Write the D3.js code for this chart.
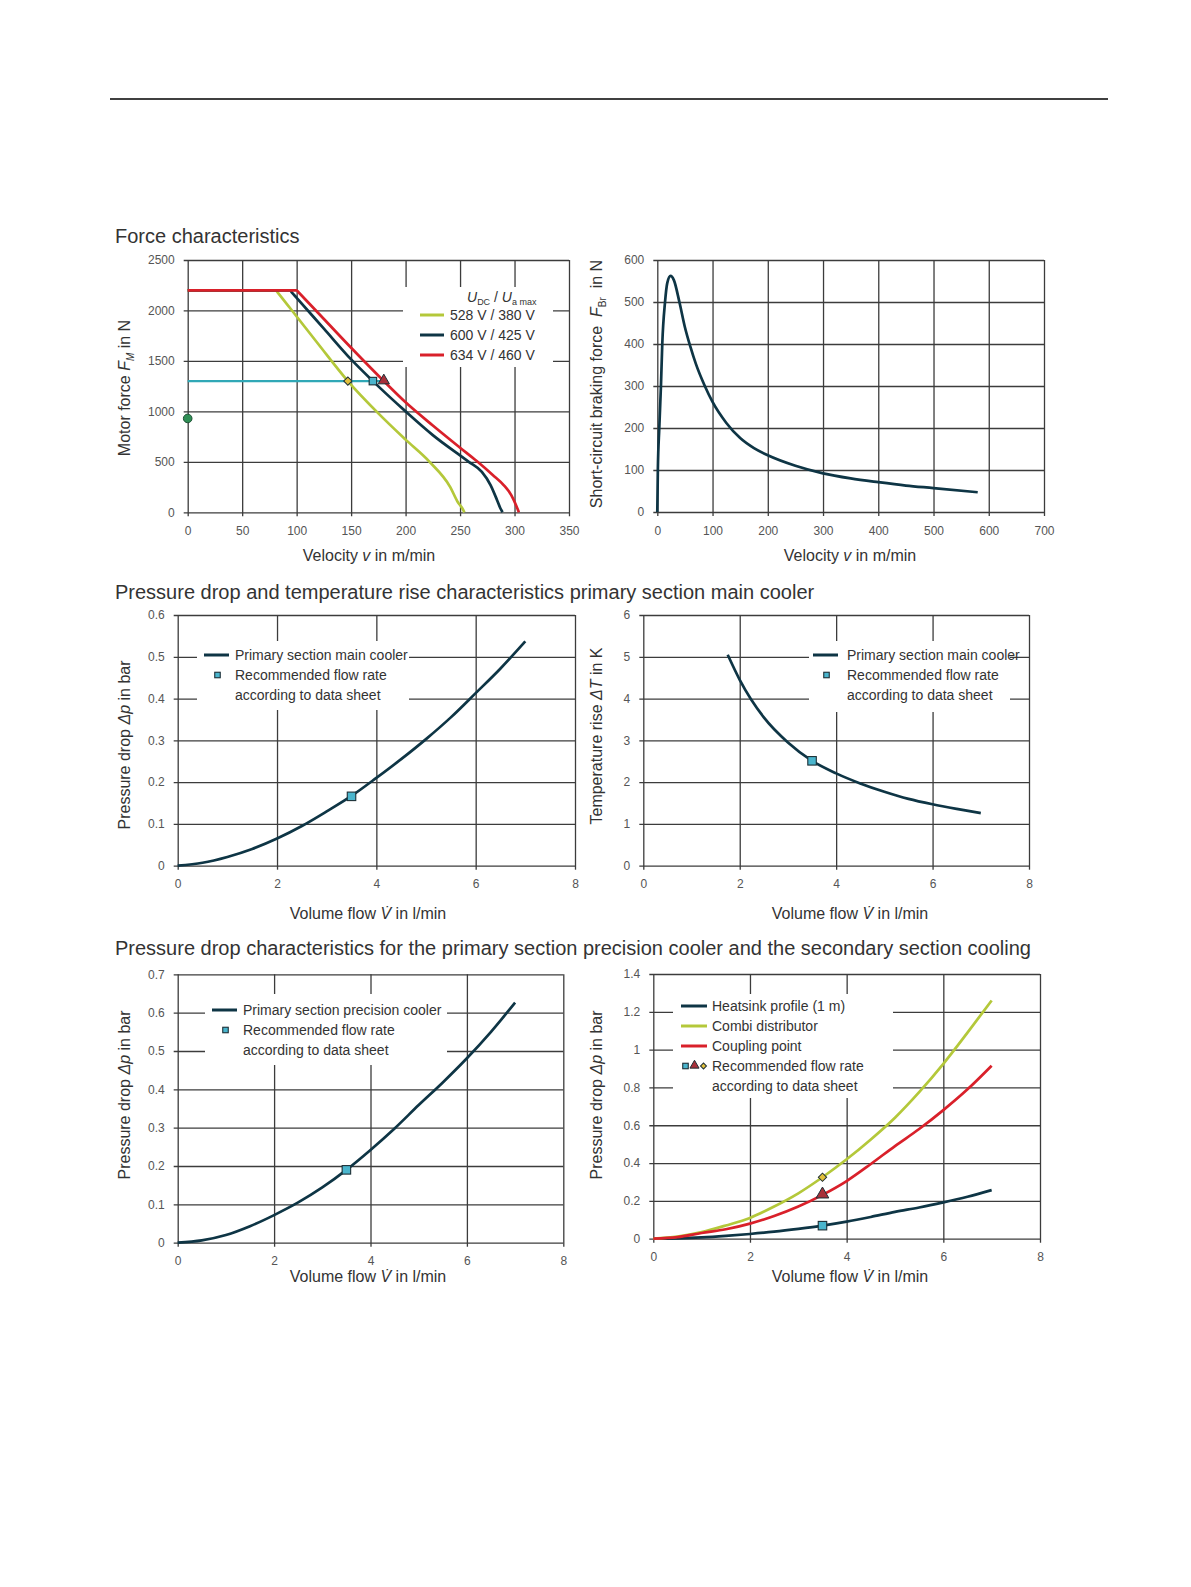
<!DOCTYPE html>
<html>
<head>
<meta charset="utf-8">
<script src="https://cdn.jsdelivr.net/npm/d3@7"></script>
<style>
  html, body { margin: 0; padding: 0; background: #fff; }
  svg { display: block; }
  text { font-family: "Liberation Sans", Arial, sans-serif; }
</style>
</head>
<body>
<svg id="page" width="1191" height="1587"></svg>
<script>
// values

// Force characteristics: motor force over velocity for three supply voltages
var forceLabels = ["528 V / 380 V", "600 V / 425 V", "634 V / 460 V"];
var force528V = [0, 81, 82.5, 100, 120, 147, 175, 200, 222, 241, 248, 252, 254];
var force528F = [2200, 2200, 2180, 1940, 1665, 1300, 980, 720, 500, 250, 100, 40, 0];
var force600V = [0, 94, 95.5, 100, 125, 150, 170, 200, 225, 258, 270, 278, 284, 287, 289];
var force600F = [2200, 2200, 2180, 2125, 1820, 1515, 1300, 1000, 765, 500, 400, 270, 120, 40, 0];
var force634V = [0, 100, 101.5, 125, 150, 180, 200, 225, 250, 265, 280, 290, 297, 301, 304];
var force634F = [2200, 2200, 2183, 1915, 1630, 1300, 1090, 860, 640, 510, 370, 270, 170, 80, 0];
var forceRefF = 1300;            // horizontal reference line
var forceRefEnd = 180;
var forceMarkV = [147, 170, 180]; // diamond, square, triangle
var forceDotF = 930;             // circle on the y axis

// Short-circuit braking force
var brakeV = [0, 1, 3.6, 6.6, 9, 14, 18, 24, 30, 40, 50, 60, 70, 86, 100, 125, 150, 175, 200, 250, 300, 350, 400, 450, 500, 580];
var brakeF = [0, 100, 200, 300, 400, 500, 545, 562, 552, 500, 440, 393, 352, 300, 262, 212, 176, 152, 135, 110, 92, 80, 71, 63, 57, 47];

// Main cooler: pressure drop and temperature rise
var flowQ = [0, 0.5, 1, 1.5, 2, 2.5, 3, 3.5, 4, 4.5, 5, 5.5, 6, 6.5, 7];
var mainDp = [0, 0.007, 0.021, 0.04, 0.065, 0.095, 0.13, 0.167, 0.21, 0.255, 0.303, 0.355, 0.413, 0.472, 0.537];
var tempQ = [1.75, 2, 2.5, 3, 3.5, 4, 4.5, 5, 5.5, 6, 6.5, 7];
var tempDT = [5.05, 4.45, 3.55, 2.95, 2.51, 2.21, 1.97, 1.77, 1.6, 1.47, 1.36, 1.26];
var recQ = 3.5;
var mainRecDp = 0.166;
var tempRecDT = 2.51;

// Precision cooler and secondary section
var precDp = [0, 0.006, 0.02, 0.043, 0.072, 0.105, 0.144, 0.19, 0.242, 0.298, 0.359, 0.418, 0.481, 0.55, 0.626];
var precRecDp = 0.19;
var heatsinkDp = [0, 0.002, 0.007, 0.015, 0.025, 0.037, 0.052, 0.069, 0.09, 0.115, 0.142, 0.165, 0.192, 0.222, 0.257];
var combiDp = [0, 0.011, 0.035, 0.07, 0.11, 0.17, 0.24, 0.325, 0.42, 0.525, 0.64, 0.775, 0.925, 1.09, 1.26];
var couplingDp = [0, 0.008, 0.03, 0.05, 0.08, 0.12, 0.17, 0.232, 0.305, 0.395, 0.49, 0.58, 0.68, 0.79, 0.915];
var secondaryLabels = ["Heatsink profile (1 m)", "Combi distributor", "Coupling point"];

var NAVY = "#0e3545", GREEN = "#b4c83a", RED = "#d9202a", CYAN = "#30a8b6";
var SQ_FILL = "#4ab5cd", DIA_FILL = "#e2c03c", TRI_FILL = "#a8303a", DARK = "#1d2f36";
var GRID = "#3c3c3c", TXT = "#333", TICK = "#555";

var svg = d3.select("#page");

// page rule at the top
svg.append("line").attr("x1", 110).attr("x2", 1108).attr("y1", 99).attr("y2", 99)
  .attr("stroke", "#000").attr("stroke-width", 1.5);

// section headings
var headings = [
  ["Force characteristics", 243],
  ["Pressure drop and temperature rise characteristics primary section main cooler", 599],
  ["Pressure drop characteristics for the primary section precision cooler and the secondary section cooling", 955]
];
headings.forEach(function(h) {
  svg.append("text").attr("x", 115).attr("y", h[1]).attr("font-size", 20).attr("fill", TXT).text(h[0]);
});

function fmt(d) { return String(+d.toFixed(2)); }

// builds one panel: grid, tick labels, scales
function panel(c) {
  var g = svg.append("g");
  var x = d3.scaleLinear().domain(c.xDom).range([c.left, c.right]);
  var y = d3.scaleLinear().domain(c.yDom).range([c.bottom, c.top]);

  var gy = g.append("g").attr("transform", "translate(" + (c.left - 4) + ",0)")
    .call(d3.axisLeft(y).tickValues(c.yTicks).tickSize(-(c.right - c.left + 4)).tickPadding(c.yPad || 9).tickFormat(fmt));
  var gx = g.append("g").attr("transform", "translate(0," + (c.bottom + 4) + ")")
    .call(d3.axisBottom(x).tickValues(c.xTicks).tickSize(-(c.bottom - c.top + 4)).tickPadding(10).tickFormat(fmt));
  [gy, gx].forEach(function(a) {
    a.select(".domain").remove();
    a.selectAll("line").attr("stroke", GRID).attr("stroke-width", 1.3);
    a.selectAll("text").attr("font-size", 12).attr("fill", TICK).style("font-family", "Liberation Sans, Arial, sans-serif");
  });
  return { g: g, x: x, y: y };
}

function curve(p, xs, ys, color, shape) {
  var pts = xs.map(function(v, i) { return [v, ys[i]]; });
  p.g.append("path").datum(pts)
    .attr("fill", "none").attr("stroke", color).attr("stroke-width", 2.7)
    .attr("stroke-linejoin", "round").attr("stroke-linecap", "butt")
    .attr("d", d3.line().x(function(d) { return p.x(d[0]); }).y(function(d) { return p.y(d[1]); })
      .curve(shape || d3.curveMonotoneX));
}

function marker(g, type, cx, cy, size) {
  var s = size || 8;
  if (type === "square") {
    g.append("rect").attr("x", cx - s / 2).attr("y", cy - s / 2).attr("width", s).attr("height", s)
      .attr("fill", SQ_FILL).attr("stroke", DARK).attr("stroke-width", 1.1);
  } else if (type === "diamond") {
    g.append("path").attr("d", d3.symbol(d3.symbolSquare, s * s * 0.7)())
      .attr("transform", "translate(" + cx + "," + cy + ") rotate(45)")
      .attr("fill", DIA_FILL).attr("stroke", DARK).attr("stroke-width", 1);
  } else if (type === "triangle") {
    g.append("path").attr("d", d3.symbol(d3.symbolTriangle, s * s * 0.85)())
      .attr("transform", "translate(" + cx + "," + (cy - 0.5) + ")")
      .attr("fill", TRI_FILL).attr("stroke", DARK).attr("stroke-width", 1);
  }
}

function legendBox(g, x0, y0, x1, y1) {
  g.append("rect").attr("x", x0).attr("y", y0).attr("width", x1 - x0).attr("height", y1 - y0).attr("fill", "#fff");
}

function legendText(g, x, yc, str) {
  g.append("text").attr("x", x).attr("y", yc + 5).attr("font-size", 14).attr("fill", TXT).text(str);
}

function legendLine(g, x0, x1, yc, color) {
  g.append("line").attr("x1", x0).attr("x2", x1).attr("y1", yc).attr("y2", yc)
    .attr("stroke", color).attr("stroke-width", 3);
}

// axis titles; parts = [text, italic, sub]
function title(cx, cy, parts, rotate) {
  var t = svg.append("text").attr("font-size", 16).attr("fill", TXT).attr("text-anchor", "middle")
    .attr("xml:space", "preserve")
    .attr("transform", "translate(" + cx + "," + cy + ")" + (rotate ? " rotate(-90)" : ""));
  var shift = 0;
  parts.forEach(function(p) {
    var ts = t.append("tspan").text(p[0]);
    if (p[1]) ts.attr("font-style", "italic");
    var want = p[2] ? 4 : 0;
    if (want !== shift) { ts.attr("dy", want - shift); shift = want; }
    if (p[2]) ts.attr("font-size", 10);
  });
  t.attr("y", 5);
}

var velocityTitle = [["Velocity "], ["v", true], [" in m/min"]];
var flowTitle = [["Volume flow "], ["V\u0307", true], [" in l/min"]];
var dpTitle = [["Pressure drop "], ["\u0394p", true], [" in bar"]];

// ---- panel 1: motor force
var p1 = panel({ left: 187.7, right: 569, top: 260, bottom: 512.3, xDom: [0, 350], yDom: [0, 2500],
  xTicks: d3.range(0, 351, 50), yTicks: d3.range(0, 2501, 500) });
legendBox(p1.g, 403, 287, 553, 367);
p1.g.append("line").attr("x1", p1.x(0)).attr("x2", p1.x(forceRefEnd)).attr("y1", p1.y(forceRefF)).attr("y2", p1.y(forceRefF))
  .attr("stroke", CYAN).attr("stroke-width", 2.2);
curve(p1, force528V, force528F, GREEN);
curve(p1, force600V, force600F, NAVY);
curve(p1, force634V, force634F, RED);
marker(p1.g, "diamond", p1.x(forceMarkV[0]), p1.y(forceRefF), 7);
marker(p1.g, "square", p1.x(forceMarkV[1]), p1.y(forceRefF), 7.5);
marker(p1.g, "triangle", p1.x(forceMarkV[2]), p1.y(forceRefF), 8);
p1.g.append("circle").attr("cx", p1.x(0)).attr("cy", p1.y(forceDotF)).attr("r", 4.3)
  .attr("fill", "#2f8f55").attr("stroke", "#1c4f33").attr("stroke-width", 1);
var hdr = p1.g.append("text").attr("x", 467).attr("y", 302).attr("font-size", 14).attr("fill", TXT);
hdr.append("tspan").attr("font-style", "italic").text("U");
hdr.append("tspan").attr("font-size", 9).attr("dy", 3).text("DC");
hdr.append("tspan").attr("dy", -3).text(" / ");
hdr.append("tspan").attr("font-style", "italic").text("U");
hdr.append("tspan").attr("font-size", 9).attr("dy", 3).text("a max");
[GREEN, NAVY, RED].forEach(function(col, i) {
  legendLine(p1.g, 420, 444, 315 + i * 20, col);
  legendText(p1.g, 450, 315 + i * 20, forceLabels[i]);
});
title(369, 556, velocityTitle, false);
title(125, 388, [["Motor force "], ["F", true], ["M", true, true], [" in N"]], true);

// ---- panel 2: braking force
var p2 = panel({ left: 657.3, right: 1044, top: 260, bottom: 512, xDom: [0, 700], yDom: [0, 600],
  xTicks: d3.range(0, 701, 100), yTicks: d3.range(0, 601, 100) });
curve(p2, brakeV, brakeF, NAVY);
title(850, 556, velocityTitle, false);
title(597, 384, [["Short-circuit braking force  "], ["F", true], ["Br", false, true], ["  in N"]], true);

// ---- panel 3: main cooler pressure drop
var p3 = panel({ left: 177.7, right: 575, top: 615, bottom: 865.7, xDom: [0, 8], yDom: [0, 0.6],
  xTicks: d3.range(0, 9, 2), yTicks: d3.range(0, 7).map(function(i) { return i / 10; }) });
legendBox(p3.g, 197, 641, 409, 710);
curve(p3, flowQ, mainDp, NAVY);
marker(p3.g, "square", p3.x(recQ), p3.y(mainRecDp), 8.5);
legendLine(p3.g, 204, 229, 655, NAVY);
marker(p3.g, "square", 217.5, 675, 5.5);
legendText(p3.g, 235, 655, "Primary section main cooler");
legendText(p3.g, 235, 675, "Recommended flow rate");
legendText(p3.g, 235, 695, "according to data sheet");
title(368, 914, flowTitle, false);
title(125, 745, dpTitle, true);

// ---- panel 4: main cooler temperature rise
var p4 = panel({ left: 643.3, right: 1029, top: 615, bottom: 865.7, xDom: [0, 8], yDom: [0, 6],
  xTicks: d3.range(0, 9, 2), yTicks: d3.range(0, 7) });
legendBox(p4.g, 809, 641, 1010, 712);
curve(p4, tempQ, tempDT, NAVY);
marker(p4.g, "square", p4.x(recQ), p4.y(tempRecDT), 8.5);
legendLine(p4.g, 813, 838, 655, NAVY);
marker(p4.g, "square", 826.5, 675, 5.5);
legendText(p4.g, 847, 655, "Primary section main cooler");
legendText(p4.g, 847, 675, "Recommended flow rate");
legendText(p4.g, 847, 695, "according to data sheet");
title(850, 914, flowTitle, false);
title(597, 736, [["Temperature rise "], ["\u0394T", true], [" in K"]], true);

// ---- panel 5: precision cooler pressure drop
var p5 = panel({ left: 177.7, right: 563.3, top: 974.3, bottom: 1242.7, xDom: [0, 8], yDom: [0, 0.7],
  xTicks: d3.range(0, 9, 2), yTicks: d3.range(0, 8).map(function(i) { return i / 10; }) });
legendBox(p5.g, 205, 994, 447, 1065);
curve(p5, flowQ, precDp, NAVY);
marker(p5.g, "square", p5.x(recQ), p5.y(precRecDp), 8.5);
legendLine(p5.g, 212, 237, 1010, NAVY);
marker(p5.g, "square", 225.5, 1030, 5.5);
legendText(p5.g, 243, 1010, "Primary section precision cooler");
legendText(p5.g, 243, 1030, "Recommended flow rate");
legendText(p5.g, 243, 1050, "according to data sheet");
title(368, 1277, flowTitle, false);
title(125, 1095, dpTitle, true);

// ---- panel 6: secondary section
var p6 = panel({ left: 653.3, right: 1040, top: 974, bottom: 1238.7, xDom: [0, 8], yDom: [0, 1.4],
  xTicks: d3.range(0, 9, 2), yTicks: d3.range(0, 8).map(function(i) { return i / 5; }) });
legendBox(p6.g, 673, 994, 893, 1098);
curve(p6, flowQ, heatsinkDp, NAVY);
curve(p6, flowQ, combiDp, GREEN);
curve(p6, flowQ, couplingDp, RED);
marker(p6.g, "diamond", p6.x(recQ), p6.y(combiDp[7]), 7);
marker(p6.g, "triangle", p6.x(recQ), p6.y(couplingDp[7]), 9);
marker(p6.g, "square", p6.x(recQ), p6.y(heatsinkDp[7]), 8.5);
[NAVY, GREEN, RED].forEach(function(col, i) {
  legendLine(p6.g, 681, 707, 1006 + i * 20, col);
  legendText(p6.g, 712, 1006 + i * 20, secondaryLabels[i]);
});
marker(p6.g, "square", 685.5, 1066, 5.5);
marker(p6.g, "triangle", 694.5, 1066, 6.5);
marker(p6.g, "diamond", 703.5, 1066, 5);
legendText(p6.g, 712, 1066, "Recommended flow rate");
legendText(p6.g, 712, 1086, "according to data sheet");
title(850, 1277, flowTitle, false);
title(597, 1095, dpTitle, true);
</script>
</body>
</html>
